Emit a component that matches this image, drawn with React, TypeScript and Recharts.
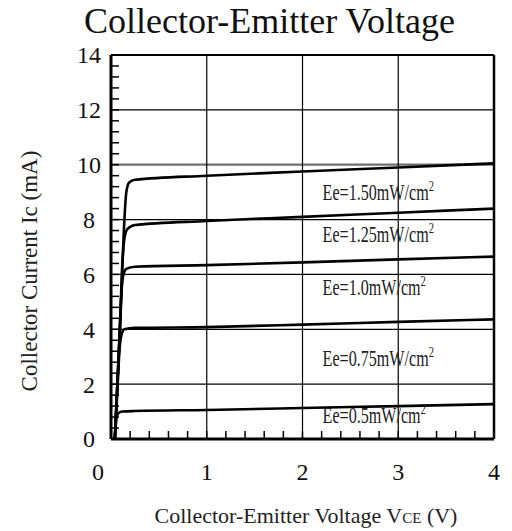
import React from 'react';
import { LineChart, Line, XAxis, YAxis, ReferenceLine, ReferenceDot } from 'recharts';

// Collector current curves, one per irradiance (V, mA)
const vce150 = [0.04, 0.1, 0.14, 0.16, 0.19, 0.25, 1, 2, 3, 4];
const ic150 = [0, 4.5, 8.0, 9.0, 9.35, 9.45, 9.6, 9.75, 9.9, 10.05];

const vce125 = [0.04, 0.09, 0.12, 0.14, 0.17, 0.25, 1, 2, 3, 4];
const ic125 = [0, 3.8, 6.5, 7.3, 7.65, 7.8, 7.95, 8.1, 8.25, 8.4];

const vce100 = [0.04, 0.08, 0.11, 0.13, 0.16, 0.25, 1, 2, 3, 4];
const ic100 = [0, 3.0, 5.4, 6.0, 6.2, 6.28, 6.34, 6.44, 6.55, 6.65];

const vce075 = [0.04, 0.07, 0.09, 0.11, 0.14, 0.25, 1, 2, 3, 4];
const ic075 = [0, 2.0, 3.3, 3.8, 4.0, 4.05, 4.08, 4.17, 4.27, 4.36];

const vce050 = [0.04, 0.05, 0.06, 0.08, 0.12, 0.25, 1, 2, 3, 4];
const ic050 = [0, 0.5, 0.8, 0.95, 1.0, 1.02, 1.06, 1.13, 1.2, 1.27];

const curveLabels = ['Ee=1.50mW/cm', 'Ee=1.25mW/cm', 'Ee=1.0mW/cm', 'Ee=0.75mW/cm', 'Ee=0.5mW/cm'];
const labelX = [2.21, 2.21, 2.21, 2.21, 2.21];
const labelY = [8.71, 7.18, 5.25, 2.66, 0.58];

const xMajor = [0, 1, 2, 3, 4];
const yMajor = [0, 2, 4, 6, 8, 10, 12, 14];
const xTicks = Array.from({ length: 21 }, (_, i) => +(i * 0.2).toFixed(1));
const yTicks = Array.from({ length: 36 }, (_, i) => +(i * 0.4).toFixed(1));

const FONT = "'Liberation Serif', 'Times New Roman', serif";

const toPoints = (v: number[], ic: number[]) => v.map((x, i) => ({ v: x, i: ic[i] }));

const series = [
  toPoints(vce150, ic150),
  toPoints(vce125, ic125),
  toPoints(vce100, ic100),
  toPoints(vce075, ic075),
  toPoints(vce050, ic050),
];

const isMajor = (val: number, step: number) => Math.abs(val / step - Math.round(val / step)) < 1e-6;

const YTick = ({ x, y, payload }: any) => {
  const val = payload.value;
  return (
    <g>
      <line x1={x} y1={y} x2={x + 8} y2={y} stroke="#000" strokeWidth={1.5} />
      {isMajor(val, 2) && (
        <text x={x - 22} y={y} dy="0.35em" textAnchor="middle" fontSize={24} fontFamily={FONT} fill="#111">
          {Math.round(val)}
        </text>
      )}
    </g>
  );
};

const XTick = ({ x, y, payload }: any) => {
  const val = payload.value;
  return (
    <g>
      <line x1={x} y1={y} x2={x} y2={y - 8} stroke="#000" strokeWidth={1.5} />
      {isMajor(val, 1) && (
        <text x={val === 0 ? x - 13 : x} y={y + 41} textAnchor="middle" fontSize={24} fontFamily={FONT} fill="#111">
          {Math.round(val)}
        </text>
      )}
    </g>
  );
};

const CurveLabel = ({ cx, cy, text }: any) => (
  <text transform={`translate(${cx},${cy}) scale(0.7,1)`} fontSize={23} fontFamily={FONT} fill="#222">
    {text}
    <tspan fontSize={15} dy={-9}>2</tspan>
  </text>
);

export default function App() {
  return (
    <div style={{ position: 'absolute', left: 0, top: 0, width: 512, height: 531, background: '#fff' }}>
      <LineChart width={512} height={531} margin={{ top: 55, right: 18, bottom: 0, left: 0 }}>
        <XAxis
          dataKey="v"
          type="number"
          domain={[0, 4]}
          ticks={xTicks}
          interval={0}
          height={92}
          tickSize={0}
          tickMargin={0}
          tickLine={false}
          axisLine={{ stroke: '#000', strokeWidth: 3 }}
          tick={<XTick />}
          allowDataOverflow
        />
        <YAxis
          type="number"
          domain={[0, 14]}
          ticks={yTicks}
          interval={0}
          width={111}
          tickSize={0}
          tickMargin={0}
          tickLine={false}
          axisLine={{ stroke: '#000', strokeWidth: 3 }}
          tick={<YTick />}
          allowDataOverflow
        />
        {yMajor.filter((t) => t > 0 && t < 14).map((t) => (
          <ReferenceLine key={`h${t}`} y={t} stroke={t === 10 ? '#6f6f6f' : '#000'} strokeWidth={t === 10 ? 2.2 : 1.2} />
        ))}
        {xMajor.filter((t) => t > 0 && t < 4).map((t) => (
          <ReferenceLine key={`v${t}`} x={t} stroke="#000" strokeWidth={1.2} />
        ))}
        <ReferenceLine y={14} stroke="#000" strokeWidth={2} />
        <ReferenceLine x={4} stroke="#000" strokeWidth={2.5} />
        {series.map((d, k) => (
          <Line
            key={k}
            data={d}
            dataKey="i"
            type="monotone"
            stroke="#000"
            strokeWidth={2.6}
            dot={false}
            isAnimationActive={false}
          />
        ))}
        {curveLabels.map((t, k) => (
          <ReferenceDot
            key={t}
            x={labelX[k]}
            y={labelY[k]}
            r={0}
            shape={(p: any) => <CurveLabel cx={p.cx} cy={p.cy} text={t} />}
          />
        ))}
      </LineChart>
      <svg width={512} height={531} style={{ position: 'absolute', left: 0, top: 0, pointerEvents: 'none' }}>
        <text x={269.5} y={33} textAnchor="middle" fontSize={36} fontFamily={FONT} fill="#111">
          Collector-Emitter Voltage
        </text>
        <text transform="translate(37,271) rotate(-90)" textAnchor="middle" fontSize={23} fontFamily={FONT} fill="#222">
          Collector Current Ic (mA)
        </text>
        <text x={306} y={523} textAnchor="middle" fontSize={22} fontFamily={FONT} fill="#222">
          Collector-Emitter Voltage V<tspan fontSize={15}>CE</tspan> (V)
        </text>
      </svg>
    </div>
  );
}
